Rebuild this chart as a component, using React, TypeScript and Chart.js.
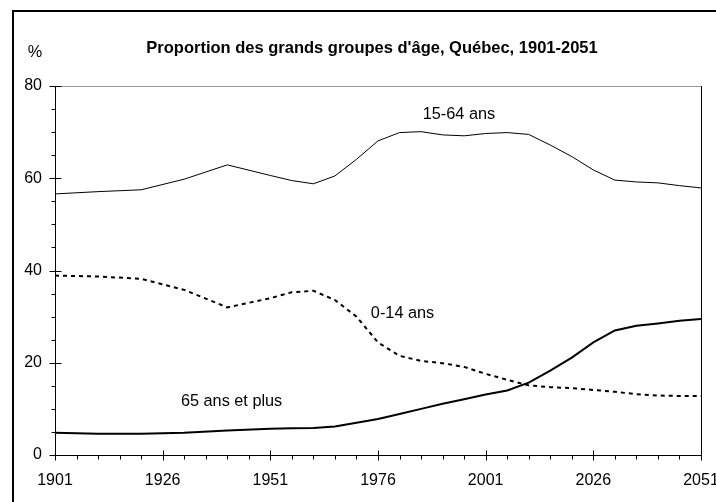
import React, { useEffect, useRef } from "react";
import { Chart, registerables } from "chart.js";

Chart.register(...registerables);

const years = [1901, 1911, 1921, 1931, 1941, 1951, 1956, 1961, 1966, 1971, 1976, 1981, 1986, 1991, 1996, 2001, 2006, 2011, 2016, 2021, 2026, 2031, 2036, 2041, 2046, 2051];
const age15to64 = [56.6, 57.1, 57.5, 59.8, 62.9, 60.6, 59.5, 58.8, 60.5, 64.1, 68.1, 69.9, 70.1, 69.4, 69.2, 69.7, 69.9, 69.5, 67.2, 64.7, 61.8, 59.6, 59.2, 59.0, 58.4, 57.9];
const age0to14 = [38.9, 38.7, 38.2, 35.8, 32.0, 34.0, 35.3, 35.6, 33.6, 30.0, 24.4, 21.5, 20.4, 19.9, 19.1, 17.6, 16.3, 15.1, 14.7, 14.5, 14.1, 13.7, 13.2, 12.9, 12.8, 12.8];
const age65plus = [4.8, 4.6, 4.6, 4.8, 5.3, 5.7, 5.8, 5.85, 6.2, 7.0, 7.8, 8.9, 10.0, 11.1, 12.1, 13.1, 14.0, 15.7, 18.3, 21.1, 24.4, 27.0, 28.0, 28.5, 29.1, 29.5];

const xTickLabels = [1901, 1926, 1951, 1976, 2001, 2026, 2051];
const yTickLabels = [0, 20, 40, 60, 80];
const minorStep = 5;

const seriesLabels = ["15-64 ans", "0-14 ans", "65 ans et plus"];
const labelYears = [1994.8, 1981.7, 1942];
const labelValues = [73.9, 30.6, 11.7];

const TITLE = "Proportion des grands groupes d'âge, Québec, 1901-2051";
const FONT = "'Liberation Sans', Arial, Helvetica, sans-serif";

const toPoints = (vals: number[]) => years.map((y, i) => ({ x: y, y: vals[i] }));

const decorPlugin = {
  id: "decor",
  afterDraw(chart: any) {
    const { ctx, chartArea, scales } = chart;
    const xs = scales.x;
    const ys = scales.y;
    ctx.save();
    ctx.lineWidth = 1;
    ctx.strokeStyle = "#9a9a9a";
    ctx.beginPath();
    ctx.moveTo(chartArea.left, Math.round(chartArea.top) + 0.5);
    ctx.lineTo(chartArea.right, Math.round(chartArea.top) + 0.5);
    ctx.stroke();
    ctx.strokeStyle = "#000";
    ctx.beginPath();
    ctx.moveTo(Math.round(chartArea.right) + 0.5, chartArea.top);
    ctx.lineTo(Math.round(chartArea.right) + 0.5, chartArea.bottom);
    ctx.stroke();

    const x0 = Math.round(chartArea.left) + 0.5;
    for (let v = ys.min; v <= ys.max + 1e-6; v += minorStep) {
      const py = Math.round(ys.getPixelForValue(v)) + 0.5;
      const major = yTickLabels.includes(v);
      ctx.beginPath();
      ctx.moveTo(x0 - (major ? 6 : 4), py);
      ctx.lineTo(x0 + (major ? 6 : 0), py);
      ctx.stroke();
    }
    const y0 = Math.round(chartArea.bottom) + 0.5;
    for (let v = xs.min; v <= xs.max + 1e-6; v += minorStep) {
      const px = Math.round(xs.getPixelForValue(v)) + 0.5;
      const major = xTickLabels.includes(v);
      ctx.beginPath();
      ctx.moveTo(px, y0 - (major ? 5 : 0));
      ctx.lineTo(px, y0 + (major ? 5 : 4));
      ctx.stroke();
    }

    ctx.fillStyle = "#000";
    ctx.textAlign = "center";
    ctx.textBaseline = "middle";
    // title
    ctx.font = `bold 16.5px ${FONT}`;
    ctx.fillText(TITLE, (chartArea.left + chartArea.right) / 2 - 6, chartArea.top - 38);

    ctx.font = `16.3px ${FONT}`;
    seriesLabels.forEach((t, i) => {
      ctx.fillText(t, xs.getPixelForValue(labelYears[i]), ys.getPixelForValue(labelValues[i]));
    });
    ctx.fillText("%", chartArea.left - 20, chartArea.top - 33);
    ctx.restore();
  },
};

export default function App() {
  const ref = useRef<HTMLCanvasElement | null>(null);
  useEffect(() => {
    document.body.style.margin = "0";
    document.body.style.overflow = "hidden";
    Chart.defaults.color = "#000";
    Chart.defaults.font.family = FONT;
    const chart = new Chart(ref.current as HTMLCanvasElement, {
      type: "line",
      data: {
        datasets: [
          {
            label: seriesLabels[0],
            data: toPoints(age15to64),
            borderColor: "#000",
            borderWidth: 1,
            pointRadius: 0,
            tension: 0,
            fill: false,
          },
          {
            label: seriesLabels[1],
            data: toPoints(age0to14),
            borderColor: "#000",
            borderWidth: 2,
            borderDash: [4, 4],
            pointRadius: 0,
            tension: 0,
            fill: false,
          },
          {
            label: seriesLabels[2],
            data: toPoints(age65plus),
            borderColor: "#000",
            borderWidth: 2,
            pointRadius: 0,
            tension: 0,
            fill: false,
          },
        ],
      },
      options: {
        animation: false,
        responsive: false,
        layout: { padding: { left: 0, right: 15, top: 86, bottom: 0 } },
        plugins: {
          legend: { display: false },
          tooltip: { enabled: false },
          title: { display: false },
        },
        scales: {
          x: {
            type: "linear",
            min: 1901,
            max: 2051,
            grid: { display: false, drawTicks: false },
            border: { display: true, color: "#000", width: 1 },
            ticks: {
              font: { size: 16, family: FONT },
              color: "#000",
              padding: 16,
              maxRotation: 0,
              autoSkip: false,
              callback: (v: any) => String(v),
            },
            afterBuildTicks: (s: any) => {
              s.ticks = xTickLabels.map((v) => ({ value: v }));
            },
            afterFit: (s: any) => {
              s.height = 47;
              s.paddingLeft = 0;
              s.paddingRight = 0;
            },
          },
          y: {
            type: "linear",
            min: 0,
            max: 80,
            grid: { display: false, drawTicks: false },
            border: { display: true, color: "#000", width: 1 },
            ticks: {
              font: { size: 16, family: FONT },
              color: "#000",
              padding: 13,
              callback: (v: any) => String(v),
            },
            afterBuildTicks: (s: any) => {
              s.ticks = yTickLabels.map((v) => ({ value: v }));
            },
            afterFit: (s: any) => {
              s.width = 55;
              s.paddingTop = 0;
              s.paddingBottom = 0;
            },
          },
        },
      },
      plugins: [decorPlugin],
    });
    return () => chart.destroy();
  }, []);

  return (
    <div style={{ position: "relative", width: 716, height: 502, overflow: "hidden", background: "#fff" }}>
      <canvas ref={ref} width={716} height={502} style={{ position: "absolute", left: 0, top: 0, width: 716, height: 502 }} />
      <div
        style={{
          position: "absolute",
          left: 12,
          top: 10,
          width: 760,
          height: 560,
          border: "2px solid #000",
          pointerEvents: "none",
        }}
      />
    </div>
  );
}
